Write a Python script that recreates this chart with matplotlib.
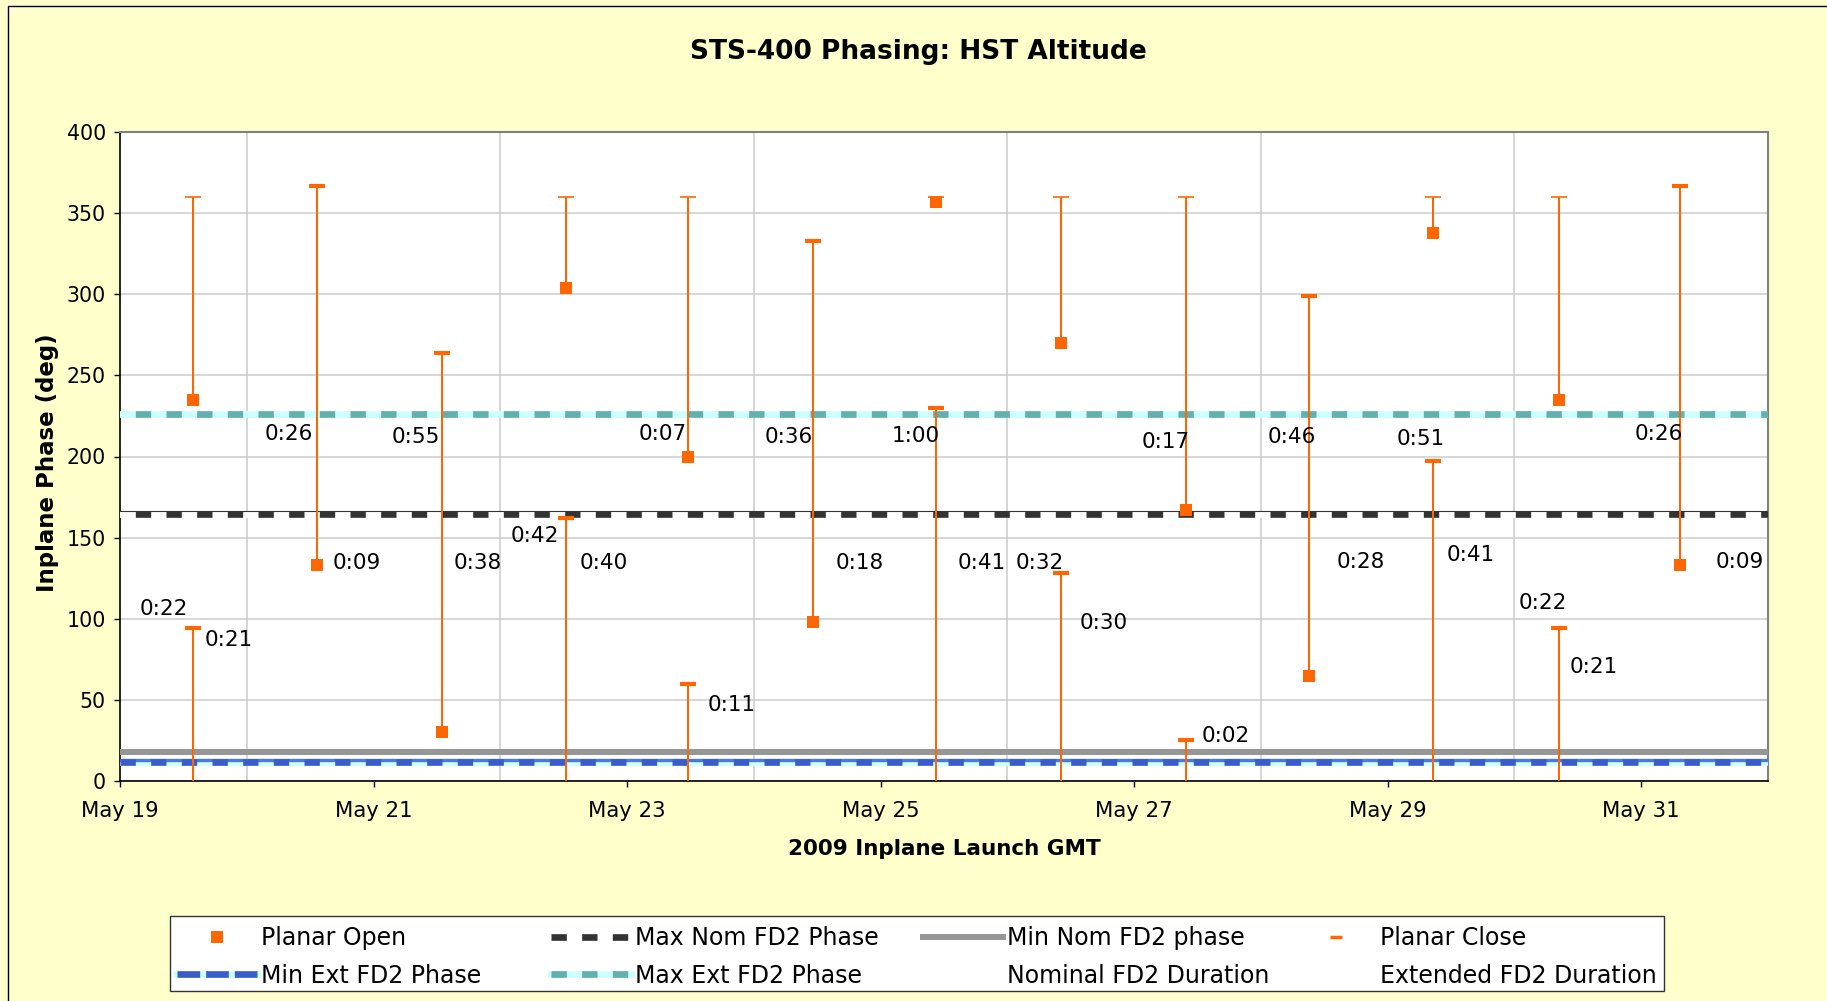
import numpy as np
import pandas as pd
import matplotlib
matplotlib.use("Agg")
import matplotlib.pyplot as plt
import matplotlib.dates as mdates
from matplotlib.lines import Line2D
from matplotlib.patches import Rectangle
from matplotlib.transforms import ScaledTranslation

# inplane launch opportunities (GMT) and HST phase at planar open / close (deg)
launch_times = ["2009-05-19 13:48", "2009-05-20 13:21", "2009-05-21 12:53", "2009-05-22 12:27",
                "2009-05-23 11:31", "2009-05-24 11:08", "2009-05-25 10:34", "2009-05-26 10:05",
                "2009-05-27 09:50", "2009-05-28 09:07", "2009-05-29 08:38", "2009-05-30 08:24",
                "2009-05-31 07:26"]
planar_open = [235, 133, 30, 304, 200, 98, 357, 270, 167, 65, 338, 235, 133]
planar_close = [94, 367, 264, 162, 60, 333, 230, 128, 25, 299, 197, 94, 367]

max_ext_phase = 226
max_nom_phase = 164.5
min_nom_phase = 18
min_ext_phase = 12

# duration labels: text, days after May 19 00:00 GMT, phase
nominal_text = ["0:26", "0:55", "0:07", "0:36", "1:00", "0:17", "0:46", "0:51", "0:26"]
nominal_day = [1.328, 2.333, 4.281, 5.279, 6.280, 8.246, 9.247, 10.264, 12.14]
nominal_phase = [213.6, 212.2, 213.9, 212.2, 212.6, 208.9, 212.2, 210.8, 213.9]

extended_text = ["0:22", "0:21", "0:09", "0:38", "0:42", "0:40", "0:11", "0:18", "0:41",
                 "0:32", "0:30", "0:02", "0:28", "0:41", "0:22", "0:21", "0:09"]
extended_day = [0.345, 0.856, 1.868, 2.820, 3.270, 3.816, 4.822, 5.835, 6.799,
                7.256, 7.757, 8.721, 9.787, 10.657, 11.223, 11.626, 12.775]
extended_phase = [105.8, 86.9, 134.2, 134.2, 151, 134.2, 46.8, 134.2, 134.2,
                  134.2, 97.6, 27.7, 135.2, 139.3, 109.5, 70.4, 135.2]

ORANGE = "#FF6600"
CYAN = "#CCFFFF"
TEAL = "#62AFAF"
DARK = "#333333"
GRAY = "#969696"
BLUE = "#3A5DCC"
BLUE2 = "#4A78E0"

fig = plt.figure(figsize=(18.27, 10.01), dpi=100, facecolor="#FFFFCC")
ax = fig.add_axes([120 / 1827, 220 / 1001, 1648 / 1827, 649 / 1001])
ax.set_facecolor("white")

# outer chart border (left / top visible)
fig.patches.append(Rectangle((7.5 / 1827, -0.2), 1.2, 1.2 - 5.7 / 1001, transform=fig.transFigure,
                             fill=False, edgecolor="black", lw=1.0, zorder=0))

base = mdates.date2num(pd.Timestamp("2009-05-19"))
x0 = base
x1 = mdates.date2num(pd.Timestamp("2009-06-01"))

t = mdates.date2num(pd.to_datetime(launch_times))
op = np.array(planar_open, dtype=float)
cl = np.array(planar_close, dtype=float)
wrap = cl < op
top = np.where(wrap, 360, cl)

# phase limit lines
ax.axhline(max_ext_phase, color=CYAN, lw=4.8, zorder=3)
ax.axhline(max_ext_phase, color=TEAL, lw=4.8, ls=(2.3, (2.3, 2.3)), zorder=3)

ax.axhline(max_nom_phase, color="white", lw=4.8, zorder=3)
ax.axhline(max_nom_phase, color=DARK, lw=4.8, ls=(2.3, (2.3, 2.3)), zorder=3)
edge = ax.axhline(max_nom_phase, color=DARK, lw=0.8, zorder=3)
edge.set_transform(edge.get_transform() + ScaledTranslation(0, 2.5 / 72, fig.dpi_scale_trans))

ax.axhline(min_nom_phase, color=GRAY, lw=4.3, zorder=3)

ax.axhline(min_ext_phase, color=CYAN, lw=4.8, zorder=3)
thin = ax.axhline(min_ext_phase, color=BLUE2, lw=2.4, zorder=3)
thin.set_transform(thin.get_transform() + ScaledTranslation(0, 1.2 / 72, fig.dpi_scale_trans))
ax.axhline(min_ext_phase, color=BLUE, lw=4.8, ls=(0, (2.3, 2.3)), zorder=3)

# planar windows
ax.vlines(t, op, top, color=ORANGE, lw=1.45, zorder=6)
ax.vlines(t[wrap], 0, cl[wrap], color=ORANGE, lw=1.45, zorder=6)
ax.plot(t[wrap], np.full(wrap.sum(), 360), ls="none", marker="_", ms=12, mew=1.2,
        color=ORANGE, zorder=6)
ax.plot(t, op, ls="none", marker="s", ms=8.6, mew=0, color=ORANGE, zorder=7)
ax.plot(t, cl, ls="none", marker="_", ms=11, mew=3, color=ORANGE, zorder=7)

for s, d, p in zip(nominal_text, nominal_day, nominal_phase):
    ax.text(base + d, p, s, ha="center", va="center", fontsize=15.5, zorder=8)
for s, d, p in zip(extended_text, extended_day, extended_phase):
    ax.text(base + d, p, s, ha="center", va="center", fontsize=15.5, zorder=8)

# axes
ax.set_xlim(x0, x1)
ax.set_ylim(0, 400)
ax.set_yticks(np.arange(0, 401, 50))
ax.set_xticks(mdates.date2num(pd.date_range("2009-05-19", "2009-05-31", freq="2D")))
ax.set_xticks(mdates.date2num(pd.date_range("2009-05-19", "2009-06-01", freq="D")), minor=True)
ax.xaxis.set_major_formatter(mdates.DateFormatter("%b %d"))
ax.tick_params(axis="x", which="major", length=4.5, width=1, pad=10, labelsize=15.3)
ax.tick_params(axis="x", which="minor", length=0)
ax.tick_params(axis="y", length=4.3, width=1, pad=5.8, labelsize=14.8)
ax.grid(True, which="minor", axis="x", color="#CCCCCC", lw=1.1, zorder=0)
ax.grid(True, which="major", axis="y", color="#CCCCCC", lw=1.1, zorder=0)
ax.set_axisbelow(True)
for side in ("left", "bottom"):
    ax.spines[side].set_color("black")
    ax.spines[side].set_linewidth(1.2)
for side in ("top", "right"):
    ax.spines[side].set_color("#808080")
    ax.spines[side].set_linewidth(1.5)

ax.set_xlabel("2009 Inplane Launch GMT", fontsize=15.5, fontweight="bold")
ax.xaxis.set_label_coords(0.5, -0.105)
ax.xaxis.label.set_va("center")
ax.set_ylabel("Inplane Phase (deg)", fontsize=16.5, fontweight="bold")
ax.yaxis.set_label_coords(-0.0437, 0.49)
ax.yaxis.label.set_va("center")
fig.text(918 / 1827, 1 - 52 / 1001, "STS-400 Phasing: HST Altitude", ha="center", va="center",
         fontsize=19, fontweight="bold")

# legend: frame plus four columns
fig.patches.append(Rectangle((170 / 1827, 1 - 991 / 1001), 1494 / 1827, 75 / 1001,
                             transform=fig.transFigure, facecolor="white", edgecolor=DARK,
                             lw=1.0, zorder=1))
h_open = Line2D([], [], ls="none", marker="s", ms=8.6, mew=0, color=ORANGE)
h_close = Line2D([], [], ls="none", marker="_", ms=8, mew=2.5, color=ORANGE)
h_maxnom = (Line2D([], [], color="white", lw=4.8),
            Line2D([], [], color=DARK, lw=4.8, ls=(0, (2.3, 2.3))))
h_minnom = Line2D([], [], color=GRAY, lw=4.3)
h_minext = (Line2D([], [], color=CYAN, lw=4.8),
            Line2D([], [], color=BLUE, lw=4.8, ls=(0, (3.4, 0.9))))
h_maxext = (Line2D([], [], color=CYAN, lw=4.8),
            Line2D([], [], color=TEAL, lw=4.8, ls=(0, (2.3, 2.3))))
h_none = Line2D([], [], ls="none")

columns = [
    ([h_open, h_minext], ["Planar Open", "Min Ext FD2 Phase"], 177),
    ([h_maxnom, h_maxext], ["Max Nom FD2 Phase", "Max Ext FD2 Phase"], 551),
    ([h_minnom, h_none], ["Min Nom FD2 phase", "Nominal FD2 Duration"], 923),
    ([h_close, h_none], ["Planar Close", "Extended FD2 Duration"], 1296),
]
for hs, ls_, xpx in columns:
    lg = fig.legend(hs, ls_, loc="upper left", bbox_to_anchor=(xpx / 1827, 1 - 926 / 1001),
                    frameon=False, borderpad=0, borderaxespad=0, fontsize=17,
                    handlelength=3.4, handletextpad=0.15, labelspacing=0.58)
    lg.set_zorder(2)

fig.savefig("out.png", dpi=100, facecolor=fig.get_facecolor())
